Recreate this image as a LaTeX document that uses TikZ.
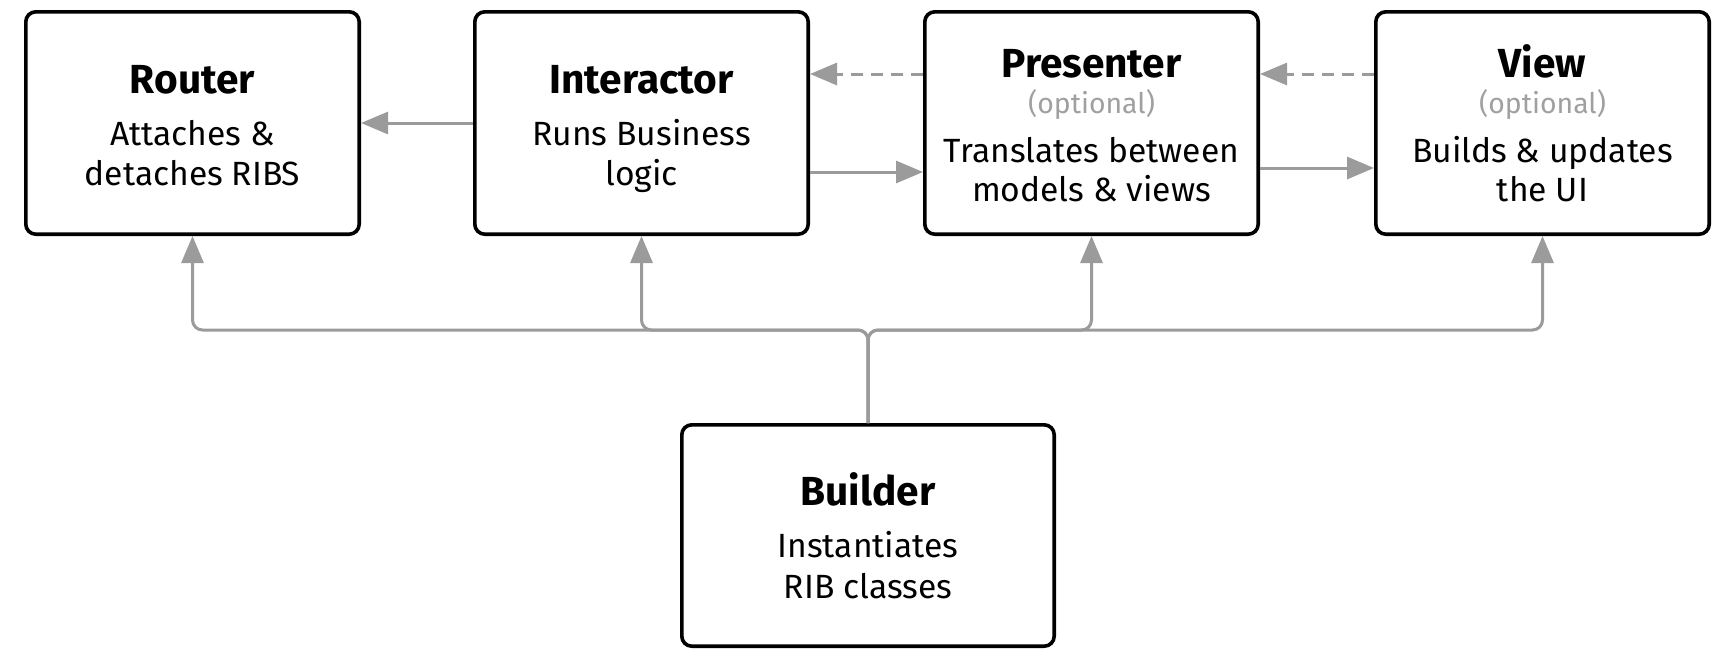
\documentclass[tikz,border=0pt]{standalone}
\usepackage{fontspec}
\setmainfont{Fira Sans}
\usetikzlibrary{arrows.meta}
\definecolor{conncol}{HTML}{9B9B9B}
\definecolor{optcol}{HTML}{A0A0A0}
\begin{document}
\begin{tikzpicture}[x=0.5pt,y=-0.5pt,
  box/.style={draw=black, line width=1.8pt, rounded corners=5pt, fill=white,
    minimum width=166.7pt, minimum height=111.2pt, inner sep=0pt},
  ttl/.style={anchor=base, inner sep=0pt, font=\fontsize{20.3}{24}\selectfont\bfseries},
  txt/.style={anchor=base, inner sep=0pt, font=\fontsize{16.8}{20}\selectfont},
  opttxt/.style={anchor=base, inner sep=0pt, text=optcol, font=\fontsize{14.2}{17}\selectfont},
  conn/.style={draw=conncol, line width=1.5pt, -{Triangle[length=13.5pt,width=11pt]}},
  dconn/.style={conn, dash pattern=on 6pt off 4pt},
  bus/.style={conn, rounded corners=5pt}]
\useasboundingbox (0,0) rectangle (1727,671);

% boxes
\node[box] (router) at (192.5,123) {};
\node[box] (interactor) at (641.5,123) {};
\node[box] (presenter) at (1091.5,123) {};
\node[box] (view) at (1542.5,123) {};
\node[box, minimum width=186.2pt, minimum height=110.7pt] (builder) at (868,535.5) {};

% texts
\node[ttl] (routerT) at (192.5,93) {Router};
\node[txt] (routerA) at (192.5,145) {Attaches \&};
\node[txt] (routerB) at (192.5,185) {detaches RIBS};

\node[ttl] (interT) at (641.5,93) {Interactor};
\node[txt] (interA) at (641.5,145) {Runs Business};
\node[txt] (interB) at (641.5,185) {logic};

\node[ttl] (presT) at (1091.5,77) {Presenter};
\node[opttxt] (presO) at (1091.5,113) {(optional)};
\node[txt] (presA) at (1091.5,162) {Translates between};
\node[txt] (presB) at (1091.5,201) {models \& views};

\node[ttl] (viewT) at (1542.5,77) {View};
\node[opttxt] (viewO) at (1542.5,113) {(optional)};
\node[txt] (viewA) at (1542.5,162) {Builds \& updates};
\node[txt] (viewB) at (1542.5,201) {the UI};

\node[ttl] (buildT) at (868,505) {Builder};
\node[txt] (buildA) at (868,557) {Instantiates};
\node[txt] (buildB) at (868,598) {RIB classes};

% level coordinates
\coordinate (yDash) at (0,74);
\coordinate (yIP) at (0,172);
\coordinate (yPV) at (0,168);
\coordinate (yBus) at (0,330);

% horizontal connectors
\draw[conn] (interactor.west) -- (router.east);
\draw[dconn] (presenter.west |- yDash) -- (interactor.east |- yDash);
\draw[conn] (interactor.east |- yIP) -- (presenter.west |- yIP);
\draw[dconn] (view.west |- yDash) -- (presenter.east |- yDash);
\draw[conn] (presenter.east |- yPV) -- (view.west |- yPV);

% builder bus
\draw[bus] (builder.north) -- (builder.north |- yBus) -- (router.south |- yBus) -- (router.south);
\draw[bus] (builder.north) -- (builder.north |- yBus) -- (interactor.south |- yBus) -- (interactor.south);
\draw[bus] (builder.north) -- (builder.north |- yBus) -- (presenter.south |- yBus) -- (presenter.south);
\draw[bus] (builder.north) -- (builder.north |- yBus) -- (view.south |- yBus) -- (view.south);
\end{tikzpicture}
\end{document}
